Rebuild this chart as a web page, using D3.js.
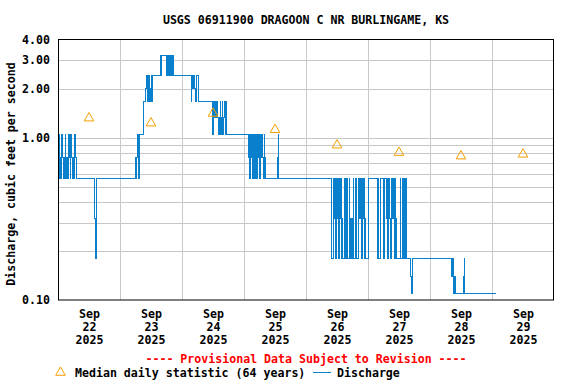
<!DOCTYPE html>
<html>
<head>
<meta charset="utf-8">
<script src="https://cdn.jsdelivr.net/npm/d3@7"></script>
<style>
body { margin: 0; background: #fff; }
svg text { font-family: "DejaVu Sans Mono", "Liberation Mono", monospace; font-weight: bold; font-size: 11.6px; fill: #000; }
</style>
</head>
<body>
<svg id="chart" width="576" height="384"></svg>
<script>
const svg = d3.select("#chart");

const title = "USGS 06911900 DRAGOON C NR BURLINGAME, KS";
const yLabel = "Discharge, cubic feet per second";

const startDate = new Date(2025, 8, 22);
const endDate = new Date(2025, 8, 30);

const yTicks = [0.1, 1, 2, 3, 4];
const yGrid = [0.2, 0.3, 0.4, 0.5, 0.6, 0.7, 0.8, 0.9, 1, 2, 3];
const dayLabels = ["22", "23", "24", "25", "26", "27", "28", "29"];

// median daily statistic, one per day (plotted at noon)
const medianValues = [1.32, 1.23, 1.41, 1.12, 0.90, 0.81, 0.77, 0.79];

// discharge: [hours after Sep 22 00:00, cfs], step series
const discharge = [
    [0.25, 0.56], [0.5, 1.05], [0.75, 0.76], [1.0, 0.56], [1.25, 0.76], [1.5, 1.05], [1.75, 0.76], [2.0, 0.56],
    [2.25, 0.76], [2.5, 0.56], [2.75, 1.05], [3.0, 0.76], [3.25, 0.56], [3.5, 0.76], [3.75, 0.56], [4.25, 1.05],
    [4.5, 0.76], [4.75, 0.56], [5.0, 1.05], [5.25, 0.76], [5.5, 0.56], [5.75, 0.76], [6.0, 0.56], [6.25, 0.76],
    [6.5, 1.05], [6.75, 0.76], [7.0, 0.56],
    [14.25, 0.32], [14.5, 0.18], [14.75, 0.56],
    [30.0, 0.76], [30.25, 0.56], [30.5, 0.76], [30.75, 1.05], [31.0, 0.76], [31.25, 0.56], [31.5, 1.05],
    [33.0, 1.67], [34.0, 2.0], [34.25, 2.42], [34.5, 2.0], [34.75, 1.67], [35.0, 2.42], [35.25, 1.67], [35.5, 2.0],
    [35.75, 1.67], [36.0, 2.42], [36.25, 2.0], [36.5, 1.67], [36.75, 2.42],
    [39.5, 3.22], [39.75, 2.42], [40.0, 3.22], [42.0, 2.42], [42.25, 3.22], [42.5, 2.42], [42.75, 3.22], [43.0, 2.42],
    [43.5, 3.22], [43.75, 2.42], [44.5, 3.22], [44.75, 2.42],
    [51.5, 1.67], [51.75, 2.42], [52.0, 2.0], [52.25, 2.42], [52.5, 2.0], [52.75, 2.42], [53.0, 2.0], [53.25, 1.67],
    [53.5, 2.42], [54.25, 1.67],
    [59.75, 1.05], [60.0, 1.67], [60.25, 1.34], [60.5, 1.67], [60.75, 1.34], [61.0, 1.67], [61.25, 1.34], [61.5, 1.67],
    [61.75, 1.34], [62.0, 1.05], [62.25, 1.34], [62.5, 1.05], [62.75, 1.67], [63.0, 1.34], [63.25, 1.05], [63.5, 1.67],
    [63.75, 1.34], [64.0, 1.05], [64.25, 1.34], [64.5, 1.67], [64.75, 1.05], [65.0, 1.67], [65.25, 1.05],
    [73.75, 0.76], [74.0, 1.05], [74.25, 0.56], [74.5, 1.05], [74.75, 0.76], [75.0, 1.05], [75.25, 0.56], [75.5, 0.76],
    [75.75, 1.05], [76.0, 0.76], [76.25, 0.56], [76.5, 1.05], [76.75, 0.76], [77.0, 0.56], [77.25, 1.05], [77.5, 0.76],
    [77.75, 1.05], [78.0, 0.56], [78.25, 0.76], [78.5, 1.05], [78.75, 0.76], [79.0, 1.05], [79.25, 0.76], [79.5, 0.56],
    [79.75, 1.05], [80.0, 0.76], [80.25, 0.56],
    [85.0, 0.76], [85.25, 1.05], [85.5, 0.56],
    [105.75, 0.32], [106.0, 0.18], [106.75, 0.56], [107.0, 0.32], [107.25, 0.56], [107.5, 0.18], [107.75, 0.56], [108.0, 0.32],
    [108.25, 0.56], [108.5, 0.32], [108.75, 0.18], [109.0, 0.56], [109.25, 0.32], [109.5, 0.56], [109.75, 0.18], [110.0, 0.32],
    [110.25, 0.18], [111.0, 0.56], [111.25, 0.18], [111.75, 0.56], [112.0, 0.18], [112.75, 0.56], [113.0, 0.18], [113.25, 0.32],
    [113.5, 0.18], [113.75, 0.32], [114.0, 0.18], [114.25, 0.56], [114.5, 0.18], [115.25, 0.56], [115.5, 0.18], [116.25, 0.56],
    [116.5, 0.32], [116.75, 0.56], [117.0, 0.32], [117.25, 0.56], [117.5, 0.18], [117.75, 0.56], [118.0, 0.32], [118.25, 0.56],
    [118.5, 0.18], [118.75, 0.32], [119.0, 0.18], [120.25, 0.56], [123.5, 0.18], [123.75, 0.32], [124.0, 0.56], [124.25, 0.18],
    [124.75, 0.32], [125.0, 0.56], [126.0, 0.18], [126.25, 0.56], [127.0, 0.32], [127.25, 0.56], [127.5, 0.18], [127.75, 0.56],
    [128.0, 0.32], [128.25, 0.56], [128.5, 0.32], [128.75, 0.18], [129.0, 0.56], [129.25, 0.32], [129.5, 0.56], [129.75, 0.32],
    [130.0, 0.56], [130.25, 0.18], [130.5, 0.56], [130.75, 0.32], [131.0, 0.18], [132.5, 0.56], [132.75, 0.18], [133.5, 0.56],
    [133.75, 0.18], [134.25, 0.56], [134.5, 0.18], [134.75, 0.56], [135.0, 0.18],
    [136.5, 0.14], [137.0, 0.11], [137.25, 0.18],
    [152.5, 0.14], [152.75, 0.18], [153.0, 0.14], [153.25, 0.11], [153.5, 0.14], [153.75, 0.11],
    [157.0, 0.14], [157.25, 0.18], [157.5, 0.11],
    [169.5, 0.11]
];

const plotLeft = 58, plotRight = 554, plotTop = 40, plotBottom = 300;

const x = d3.scaleTime().domain([startDate, endDate]).range([plotLeft, plotRight]);
const y = d3.scaleLog().domain([0.1, 4]).range([plotBottom, plotTop]);

const hoursToDate = h => new Date(startDate.getTime() + h * 3600e3);
const days = d3.timeDay.range(startDate, endDate);
const noons = days.map(d => d3.timeHour.offset(d, 12));

// grid
svg.append("g")
    .selectAll("line")
    .data(yGrid)
    .enter()
    .append("line")
    .attr("x1", plotLeft)
    .attr("x2", plotRight)
    .attr("y1", d => Math.round(y(d)) + 0.5)
    .attr("y2", d => Math.round(y(d)) + 0.5)
    .attr("stroke", "#c8c8c8")
    .attr("stroke-width", 1);

svg.append("g")
    .selectAll("line")
    .data(days.slice(1))
    .enter()
    .append("line")
    .attr("x1", d => Math.round(x(d)) + 0.5)
    .attr("x2", d => Math.round(x(d)) + 0.5)
    .attr("y1", plotTop)
    .attr("y2", plotBottom)
    .attr("stroke", "#c8c8c8")
    .attr("stroke-width", 1);

// discharge line
const line = d3.line()
    .x(d => x(hoursToDate(d[0])))
    .y(d => y(d[1]))
    .curve(d3.curveStepAfter);

svg.append("path")
    .datum(discharge)
    .attr("d", line)
    .attr("fill", "none")
    .attr("stroke", "#0a7fcc")
    .attr("stroke-width", 1)
    .attr("shape-rendering", "crispEdges");

// median triangles
const tri = d3.symbol().type(d3.symbolTriangle).size(40);
svg.append("g")
    .selectAll("path")
    .data(medianValues)
    .enter()
    .append("path")
    .attr("d", tri)
    .attr("transform", (d, i) => `translate(${x(noons[i])},${y(d)})`)
    .attr("fill", "none")
    .attr("stroke", "#f5a000")
    .attr("stroke-width", 1);

// frame
svg.append("rect")
    .attr("x", plotLeft + 0.5)
    .attr("y", plotTop - 0.5)
    .attr("width", plotRight - plotLeft - 1)
    .attr("height", plotBottom - plotTop + 0.5)
    .attr("fill", "none")
    .attr("stroke", "#000")
    .attr("stroke-width", 1);

// y axis
svg.append("g")
    .attr("transform", `translate(${plotLeft},0)`)
    .call(d3.axisLeft(y).tickValues(yTicks).tickFormat(d3.format(".2f")).tickSize(0).tickPadding(8))
    .call(g => g.select(".domain").remove());

// x axis
const xAxis = svg.append("g")
    .attr("transform", `translate(0,${plotBottom})`)
    .call(d3.axisBottom(x).tickValues(noons).tickSize(0).tickFormat(""))
    .call(g => g.select(".domain").remove());

xAxis.selectAll(".tick text")
    .attr("dy", null)
    .attr("y", null)
    .each(function (d, i) {
        const t = d3.select(this);
        t.append("tspan").attr("x", 0).attr("y", 18).text("Sep");
        t.append("tspan").attr("x", 0).attr("y", 31).text(dayLabels[i]);
        t.append("tspan").attr("x", 0).attr("y", 44).text("2025");
    });

// title
svg.append("text")
    .attr("x", (plotLeft + plotRight) / 2)
    .attr("y", 24)
    .attr("text-anchor", "middle")
    .text(title);

svg.append("text")
    .attr("transform", `translate(15,${(plotTop + plotBottom) / 2 + 4}) rotate(-90)`)
    .attr("text-anchor", "middle")
    .text(yLabel);

svg.append("text")
    .attr("x", (plotLeft + plotRight) / 2)
    .attr("y", 362.5)
    .attr("text-anchor", "middle")
    .style("fill", "#ff0000")
    .text("---- Provisional Data Subject to Revision ----");

// legend
svg.append("path")
    .attr("d", tri)
    .attr("transform", "translate(60.5,372.5)")
    .attr("fill", "none")
    .attr("stroke", "#f5a000")
    .attr("stroke-width", 1);

svg.append("text")
    .attr("x", 75)
    .attr("y", 376.5)
    .text("Median daily statistic (64 years)");

svg.append("line")
    .attr("x1", 313)
    .attr("x2", 331)
    .attr("y1", 372.5)
    .attr("y2", 372.5)
    .attr("stroke", "#0a7fcc")
    .attr("stroke-width", 1);

svg.append("text")
    .attr("x", 337)
    .attr("y", 376.5)
    .text("Discharge");
</script>
</body>
</html>
